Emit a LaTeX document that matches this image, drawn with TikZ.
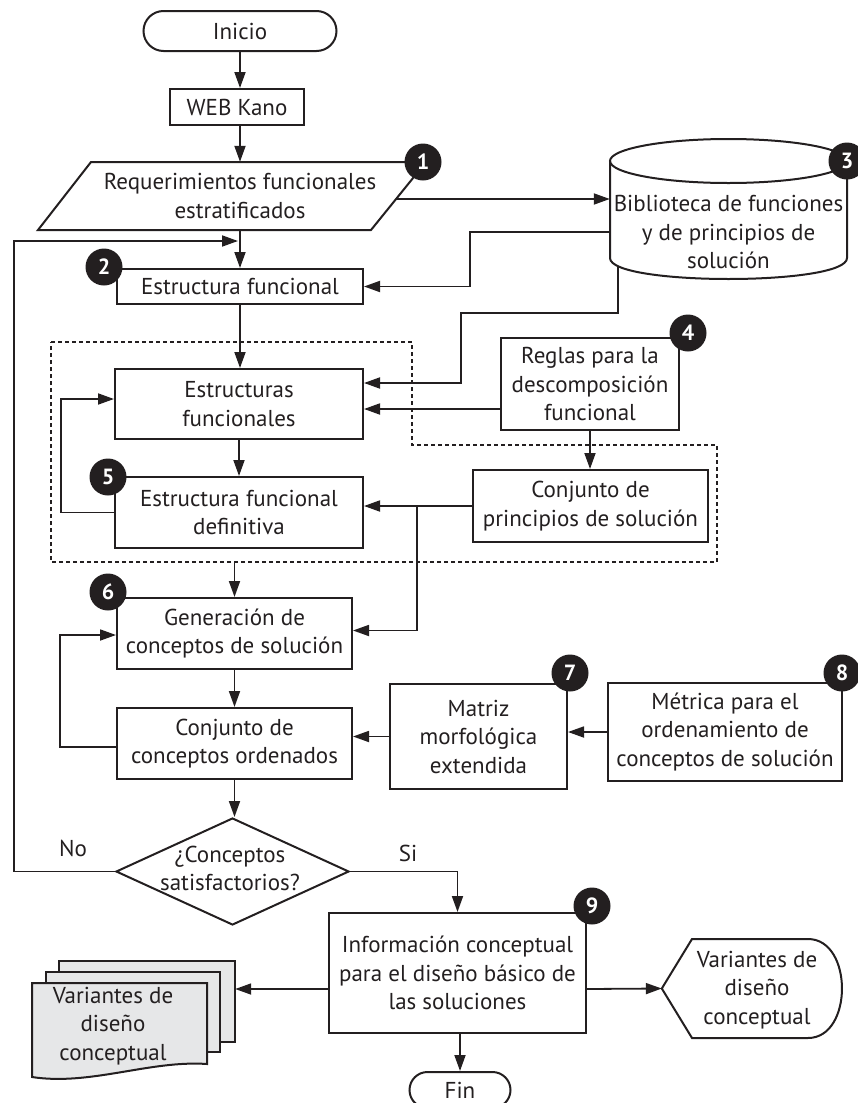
\documentclass[tikz,border=0pt]{standalone}
\usepackage{fontspec}
\setmainfont{PT Sans}
\usetikzlibrary{arrows.meta,shapes.geometric,calc}
\definecolor{ink}{HTML}{231F20}
\definecolor{sheet}{HTML}{E6E7E8}

\begin{document}
\begin{tikzpicture}[x=1pt,y=-1pt,
  every node/.style={font=\fontsize{23}{28.5}\selectfont, text=ink, align=center, inner sep=0pt},
  box/.style={draw=ink, line width=2pt, rectangle},
  ghost/.style={rectangle},
  outline/.style={draw=ink, line width=2pt},
  arr/.style={draw=ink, line width=1.8pt, -{Triangle[length=16pt,width=11pt]}},
  wire/.style={draw=ink, line width=1.8pt},
  badge/.style={circle, fill=ink, text=white, minimum size=37pt, inner sep=0pt,
                font=\fontsize{22}{22}\selectfont\bfseries},
  lbl/.style={font=\fontsize{23}{28.5}\selectfont},
]
\useasboundingbox (0,0) rectangle (858,1103);

% ---------- start and input ----------
\node[box, rounded corners=20pt, minimum width=193pt, minimum height=40pt] (ini) at (240,31) {Inicio};
\node[box, minimum width=134pt, minimum height=36pt] (web) at (237,107) {WEB Kano};

% parallelogram for the stratified requirements
\draw[outline] (91,162) -- (426,162) -- (371,230) -- (38,230) -- cycle;
\node[ghost, minimum width=250pt, minimum height=68pt] (req) at (240,196)
  {Requerimientos funcionales\\estratificados};
\coordinate (reqR) at (396,199);

% ---------- library (cylinder) ----------
\draw[outline] (610,161) -- (610,258) .. controls (610,286) and (847,286) .. (847,258) -- (847,161);
\draw[outline] (728.5,161) ellipse [x radius=118.5pt, y radius=22pt];
\node[ghost, minimum width=237pt, minimum height=141pt] (lib) at (728.5,208.5) {};
\node (libtext) at (728.5,232) {Biblioteca de funciones\\y de principios de\\solución};
\coordinate (libB) at (618,266);

% ---------- functional structures ----------
\node[box, minimum width=246pt, minimum height=35pt] (ef) at (240,286.5) {Estructura funcional};

\draw[draw=ink, line width=1.8pt, dash pattern=on 4pt off 3pt]
  (51,342) -- (412,342) -- (412,445) -- (717,445) -- (717,562) -- (51,562) -- cycle;
\coordinate (grpS) at (236,562);

\node[box, minimum width=248pt, minimum height=70pt] (efs) at (239,404) {Estructuras\\funcionales};
\node[box, minimum width=248pt, minimum height=71pt] (efd) at (239,512.5) {Estructura funcional\\definitiva};
\node[box, minimum width=178pt, minimum height=92pt] (reg) at (590,384) {Reglas para la\\descomposición\\funcional};
\node[box, minimum width=235pt, minimum height=72pt] (cps) at (590.5,506) {Conjunto de\\principios de solución};
\coordinate (split) at (417,506);

% ---------- concepts ----------
\node[box, minimum width=235pt, minimum height=71pt] (gen) at (234.5,633.5) {Generación de\\conceptos de solución};
\node[box, minimum width=235pt, minimum height=71pt] (cco) at (234.5,743.5) {Conjunto de\\conceptos ordenados};
\node[box, minimum width=177pt, minimum height=105pt] (mat) at (478.5,736.5) {Matriz\\morfológica\\extendida};
\node[box, minimum width=234pt, minimum height=98pt] (met) at (725,732) {Métrica para el\\ordenamiento de\\conceptos de solución};

% ---------- decision ----------
\node[diamond, draw=ink, line width=2pt, minimum width=233pt, minimum height=107pt, inner sep=0pt] (dec) at (232.5,871.5) {};
\node (dectext) at (230,868.5) {¿Conceptos\\satisfactorios?};
\node[lbl] (no) at (73,848) {No};
\node[lbl] (si) at (408,853) {Si};
\coordinate (noTop) at (14,241);
\coordinate (merge) at (238,241);

% ---------- outputs ----------
\node[box, minimum width=257pt, minimum height=120pt] (inf) at (457.5,973) {Información conceptual\\para el diseño básico de\\las soluciones};
\node[box, rounded corners=18pt, minimum width=101pt, minimum height=36pt] (fin) at (460,1090) {Fin};

% stacked documents
\draw[outline, fill=sheet] (59,961) rectangle (235,1042);
\draw[outline, fill=sheet] (46,972) rectangle (220,1052);
\draw[outline, fill=sheet] (32,983) -- (207,983) -- (207,1064)
  .. controls (150,1060) and (90,1086) .. (32,1077) -- cycle;
\node[ghost, minimum width=203pt, minimum height=117pt] (docs) at (133.5,1019.5) {};
\node (docstext) at (113,1026) {Variantes de\\diseño\\conceptual};

% display shape
\node[ghost, minimum width=180pt, minimum height=99pt] (disp) at (752,988.5) {};
\draw[outline] (disp.west) -- (692,939) -- (808,939) .. controls (853.3,939) and (853.3,1038) .. (808,1038)
  -- (692,1038) -- cycle;
\node (disptext) at (757,990) {Variantes de\\diseño\\conceptual};

% ---------- connectors ----------
\draw[arr] (ini.south) -- (ini.south |- web.north);
\draw[arr] (web.south -| req) -- (req.north);
\draw[arr] (req.south) -- (ef.north -| req.south);
\draw[arr] (reqR) -- (lib.west |- reqR);
\draw[arr] (libtext -| lib.west) -- ++(-140,0) |- (ef.east);
\draw[arr] (libB) |- (461,313) |- ([yshift=21pt]efs.east);
\draw[arr] ([yshift=-25pt]reg.west) -- ([yshift=-5pt]efs.east);
\draw[arr] (reg.south) -- (reg.south |- cps.north);
\draw[arr] (ef.south) -- (ef.south |- efs.north);
\draw[arr] (efs.south) -- (efd.north);
\draw[arr] (efd.west) -- ++(-53,0) |- ([yshift=5pt]efs.west);
\draw[arr] (cps.west) -- (efd.east |- cps.west);
\draw[arr] (split) |- ([yshift=3pt]gen.east);
\draw[arr] (gen.north |- grpS) -- (gen.north);
\draw[arr] (gen.south) -- (cco.north);
\draw[arr] ([yshift=-3.5pt]cco.west) -- ++(-56,0) |- ([yshift=-1.5pt]gen.west);
\draw[arr] (mat.west) -- (cco.east |- mat.west);
\draw[arr] (met.west) -- (mat.east |- met.west);
\draw[arr] (cco.south) -- (cco.south |- dec.north);
\draw[arr] (dec.west) -| (noTop) -- (merge);
\draw[arr] (dec.east) -| (inf.north);
\draw[arr] ([yshift=-16pt]inf.west) -- (docs.east |- 0,989);
\draw[arr] ([yshift=-16pt]inf.east) -- (disp.west);
\draw[arr] (inf.south -| fin) -- (fin.north);

% ---------- step badges ----------
\node[badge] (b1) at (423,162) {1};
\node[badge] (b2) at (104,267) {2};
\node[badge] (b3) at (847,161) {3};
\node[badge] (b4) at (688,333) {4};
\node[badge] (b5) at (108,477) {5};
\node[badge] (b6) at (108,592) {6};
\node[badge] (b7) at (570,673) {7};
\node[badge] (b8) at (842,673) {8};
\node[badge] (b9) at (592,906) {9};
\end{tikzpicture}
\end{document}
